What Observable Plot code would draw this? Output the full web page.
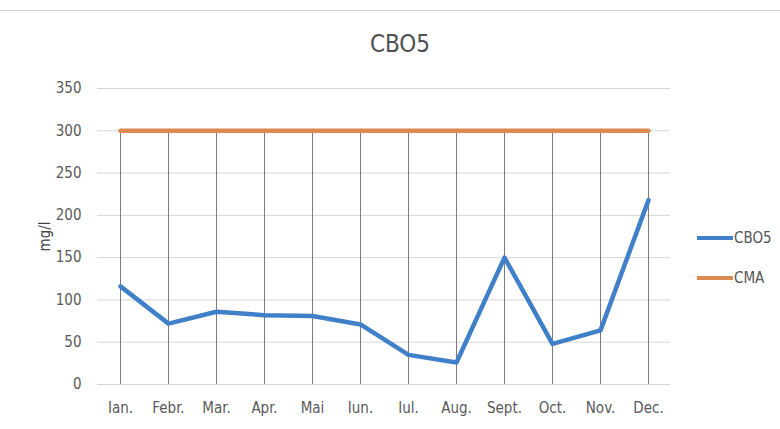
<!DOCTYPE html>
<html>
<head>
<meta charset="utf-8">
<script src="https://cdn.jsdelivr.net/npm/d3@7"></script>
<script src="https://cdn.jsdelivr.net/npm/@observablehq/plot@0.6"></script>
<style>
  html, body { margin: 0; padding: 0; background: #fff; width: 780px; height: 429px; overflow: hidden; }
  #wrap { position: relative; width: 780px; height: 429px; font-family: "DejaVu Sans Condensed", "Liberation Sans", sans-serif; color: #595959; }
  #title { position: absolute; left: 0; top: 30px; width: 800px; text-align: center; font-size: 24px; color: #505050; }
  #topline { position: absolute; left: 0; top: 10px; width: 780px; border-top: 1px solid #d4d4d4; }
  #chart { position: absolute; left: 0; top: 70px; }
  #legend { position: absolute; left: 697px; top: 228px; font-size: 15px; color: #555; }
  .item { display: flex; align-items: center; height: 20px; margin-bottom: 20px; }
  .sw { width: 36px; height: 4px; margin-right: 1px; }
</style>
</head>
<body>
<div id="wrap">
  <div id="topline"></div>
  <div id="title">CBO5</div>
  <div id="chart"></div>
  <div id="legend"></div>
</div>
<script>
const months = ["Ian.", "Febr.", "Mar.", "Apr.", "Mai", "Iun.", "Iul.", "Aug.", "Sept.", "Oct.", "Nov.", "Dec."];
const cbo5 = [116, 72, 86, 82, 81, 71, 35, 26, 150, 48, 64, 218];
const cma = [300, 300, 300, 300, 300, 300, 300, 300, 300, 300, 300, 300];
const yTicks = [0, 50, 100, 150, 200, 250, 300, 350];
const seriesNames = ["CBO5", "CMA"];
const yLabel = "mg/l";
const colors = ["#3f80c8", "#db8a52"];

const rows = months.map((m, i) => ({month: m, cbo5: cbo5[i], cma: cma[i]}));
const font = '"DejaVu Sans Condensed", "Liberation Sans", sans-serif';

const plot = Plot.plot({
  width: 780,
  height: 359,
  marginLeft: 97,
  marginRight: 110,
  marginTop: 18,
  marginBottom: 45,
  style: {fontFamily: font, fontSize: "15px", color: "#595959", background: "transparent"},
  x: {type: "point", domain: months, padding: 0.4, label: null},
  y: {domain: [0, 350], ticks: yTicks, label: null},
  marks: [
    Plot.gridY(yTicks, {stroke: "#d6d6d6", strokeOpacity: 1, strokeWidth: 1}),
    Plot.ruleX(rows, {x: "month", y1: 0, y2: "cma", stroke: "#7a7a7a", strokeWidth: 1}),
    Plot.axisY(yTicks, {tickSize: 0, tickPadding: 16, fontSize: 15, fill: "#595959"}),
    Plot.axisX(months, {tickSize: 0, tickPadding: 18, fontSize: 15, fill: "#595959"}),
    Plot.text([yLabel], {frameAnchor: "left", textAnchor: "middle", dx: -52, rotate: -90, fontSize: 15, fill: "#444", text: d => d}),
    Plot.lineY(rows, {x: "month", y: "cma", stroke: colors[1], strokeWidth: 4.5}),
    Plot.lineY(rows, {x: "month", y: "cbo5", stroke: colors[0], strokeWidth: 4.5, strokeLinejoin: "round"})
  ]
});
document.getElementById("chart").appendChild(plot);

const legend = document.getElementById("legend");
seriesNames.forEach((n, i) => {
  const d = document.createElement("div");
  d.className = "item";
  d.innerHTML = `<span class="sw" style="background:${colors[i]}"></span><span>${n}</span>`;
  legend.appendChild(d);
});
</script>
</body>
</html>
